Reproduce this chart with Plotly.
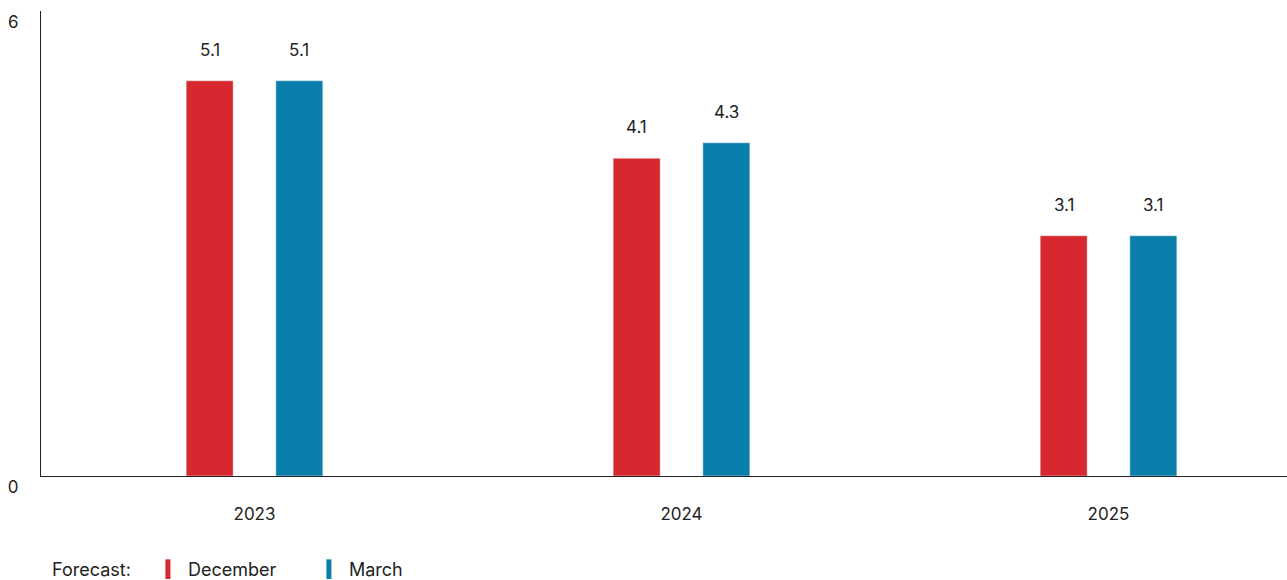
import plotly.graph_objects as go

years = ["2023", "2024", "2025"]
december = [5.1, 4.1, 3.1]
march = [5.1, 4.3, 3.1]
y_ticks = [0, 6]

RED = "#d7282f"
BLUE = "#0a7fac"
FONT = "Inter, Roboto, Arial, sans-serif"
TEXT = "#222222"

pos = list(range(len(years)))

fig = go.Figure()
for name, vals, color, off in (("December", december, RED, -0.16),
                               ("March", march, BLUE, 0.05)):
    fig.add_trace(go.Bar(x=pos, y=vals, name=name, marker_color=color,
                         width=0.11, offset=off, showlegend=False))
    # legend key: slim vertical swatch
    fig.add_trace(go.Scatter(x=[None], y=[None], mode="markers", name=name,
                             marker=dict(symbol="line-ns", size=14,
                                         line=dict(width=7, color=color))))

# value labels above each bar
for series, off in ((december, -0.105), (march, 0.105)):
    for i, v in enumerate(series):
        fig.add_annotation(x=i + off, y=v, text=f"{v:.1f}", showarrow=False,
                           yshift=31, font=dict(size=17, color=TEXT, family=FONT))

# legend caption
fig.add_annotation(xref="paper", yref="paper", x=0.007, y=-0.201,
                   xanchor="left", yanchor="middle", text="Forecast:",
                   showarrow=False, font=dict(size=18, color=TEXT, family=FONT))

fig.update_layout(
    width=1287, height=580,
    margin=dict(l=41, r=0, t=11, b=104, autoexpand=False),
    plot_bgcolor="white", paper_bgcolor="white",
    barmode="overlay",
    font=dict(family=FONT, color=TEXT, size=17),
    xaxis=dict(range=[-0.5, 2.418], tickvals=pos, ticktext=years,
               showgrid=False, zeroline=False, showline=True,
               linecolor="#222", linewidth=1.3, ticks="",
               ticklabelstandoff=22, tickfont=dict(size=17)),
    yaxis=dict(range=[0, 6], tickvals=y_ticks, showgrid=False,
               zeroline=False, showline=True, linecolor="#222",
               linewidth=1.3, ticks="", ticklabelstandoff=18,
               ticklabelshift=11, tickfont=dict(size=17)),
    showlegend=True,
    legend=dict(orientation="h", x=0.0858, xanchor="left", y=-0.201,
                yanchor="middle", valign="middle",
                font=dict(size=18), itemclick=False,
                entrywidth=116, entrywidthmode="pixels"),
)

fig.write_html("out.html")
